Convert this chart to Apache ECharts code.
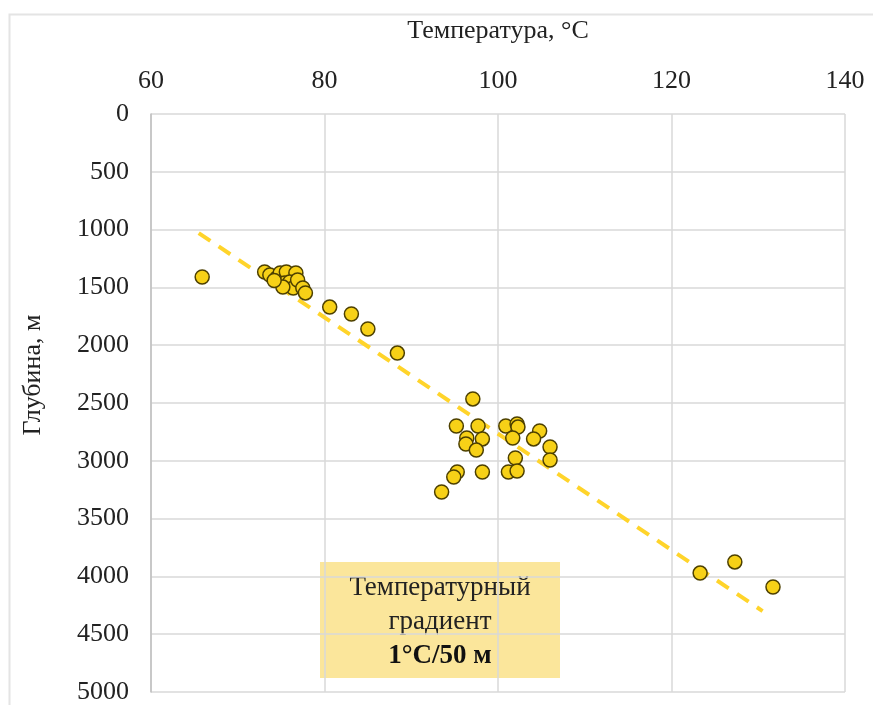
<!DOCTYPE html>
<html><head><meta charset="utf-8">
<script src="https://cdn.jsdelivr.net/npm/echarts@6/dist/echarts.min.js"></script>
<style>html,body{margin:0;padding:0;background:#fff}#c{width:873px;height:705px}</style>
</head><body><div id="c"></div>
<script>
const xTitle = 'Температура, °C';
const yTitle = 'Глубина, м';
const temperature = [65.9, 73.1, 73.7, 74.5, 74.9, 75.6, 76.7, 75.4, 76.0, 76.4, 76.9, 77.5, 77.8, 75.2, 74.2,
  80.6, 83.1, 85.0, 88.4,
  97.1, 95.2, 97.7, 96.4, 96.3, 98.2, 97.5, 100.9, 102.2, 102.3, 101.7, 104.8, 104.1, 106.0, 106.0, 102.0, 101.2, 102.2, 95.3, 94.9, 98.2, 93.5,
  123.3, 127.3, 131.7];
const depth = [1410, 1367, 1393, 1419, 1375, 1367, 1375, 1462, 1453, 1505, 1436, 1505, 1548, 1497, 1440,
  1670, 1730, 1860, 2068,
  2465, 2699, 2699, 2803, 2855, 2811, 2907, 2699, 2682, 2708, 2803, 2742, 2811, 2881, 2993, 2976, 3097, 3088, 3097, 3140, 3097, 3270,
  3971, 3875, 4092];
const trendT = [65.5, 130.5];
const trendD = [1030, 4300];
const noteLines = ['Температурный', 'градиент', '1°C/50 м'];

const chart = echarts.init(document.getElementById('c'));
const font = 'Liberation Serif';
chart.setOption({
  backgroundColor: '#fff',
  animation: false,
  grid: {left: 151, right: 28, top: 114, bottom: 13},
  xAxis: {
    type: 'value', position: 'top', min: 60, max: 140, interval: 20,
    name: xTitle, nameLocation: 'middle', nameGap: 70,
    nameTextStyle: {fontFamily: font, fontSize: 26, color: '#222'},
    axisLabel: {fontFamily: font, fontSize: 26, color: '#222', margin: 20},
    axisLine: {show: false}, axisTick: {show: false},
    splitLine: {lineStyle: {color: '#d9d9d9', width: 1.5}}
  },
  yAxis: {
    type: 'value', inverse: true, min: 0, max: 5000, interval: 500,
    axisLabel: {fontFamily: font, fontSize: 26, color: '#222', margin: 22, formatter: v => String(v)},
    axisLine: {show: true, onZero: false, lineStyle: {color: '#bfbfbf', width: 1.5}},
    axisTick: {show: false},
    splitLine: {lineStyle: {color: '#d9d9d9', width: 1.5}}
  },
  graphic: [
    {type: 'rect', left: 7, top: 12, shape: {width: 880, height: 700},
     style: {fill: 'none', stroke: '#e4e4e4', lineWidth: 2}, z: 0, silent: true},
    {type: 'text', x: 33, y: 375, rotation: Math.PI / 2,
     style: {text: yTitle, fontFamily: font, fontSize: 26, fill: '#222', align: 'center', verticalAlign: 'middle'}},
    {type: 'group', left: 320, top: 562, z: 100, children: [
      {type: 'rect', shape: {x: 0, y: 0, width: 240, height: 116}, style: {fill: '#fbe69b'}},
      {type: 'text', x: 120, y: 26, style: {text: noteLines[0], fontFamily: font, fontSize: 27, fill: '#222', align: 'center', verticalAlign: 'middle'}},
      {type: 'text', x: 120, y: 60, style: {text: noteLines[1], fontFamily: font, fontSize: 27, fill: '#222', align: 'center', verticalAlign: 'middle'}},
      {type: 'text', x: 120, y: 94, style: {text: noteLines[2], fontFamily: font, fontSize: 27, fontWeight: 'bold', fill: '#111', align: 'center', verticalAlign: 'middle'}}
    ]}
  ],
  series: [
    {type: 'line', data: trendT.map((t, i) => [t, trendD[i]]), symbol: 'none', z: 3,
     lineStyle: {color: '#ffd42a', width: 4, type: [14, 10]}},
    {type: 'scatter', data: temperature.map((t, i) => [t, depth[i]]), symbolSize: 14, z: 4,
     itemStyle: {color: '#f7d117', borderColor: '#4d4000', borderWidth: 1.5, opacity: 1}}
  ]
});
</script></body></html>
